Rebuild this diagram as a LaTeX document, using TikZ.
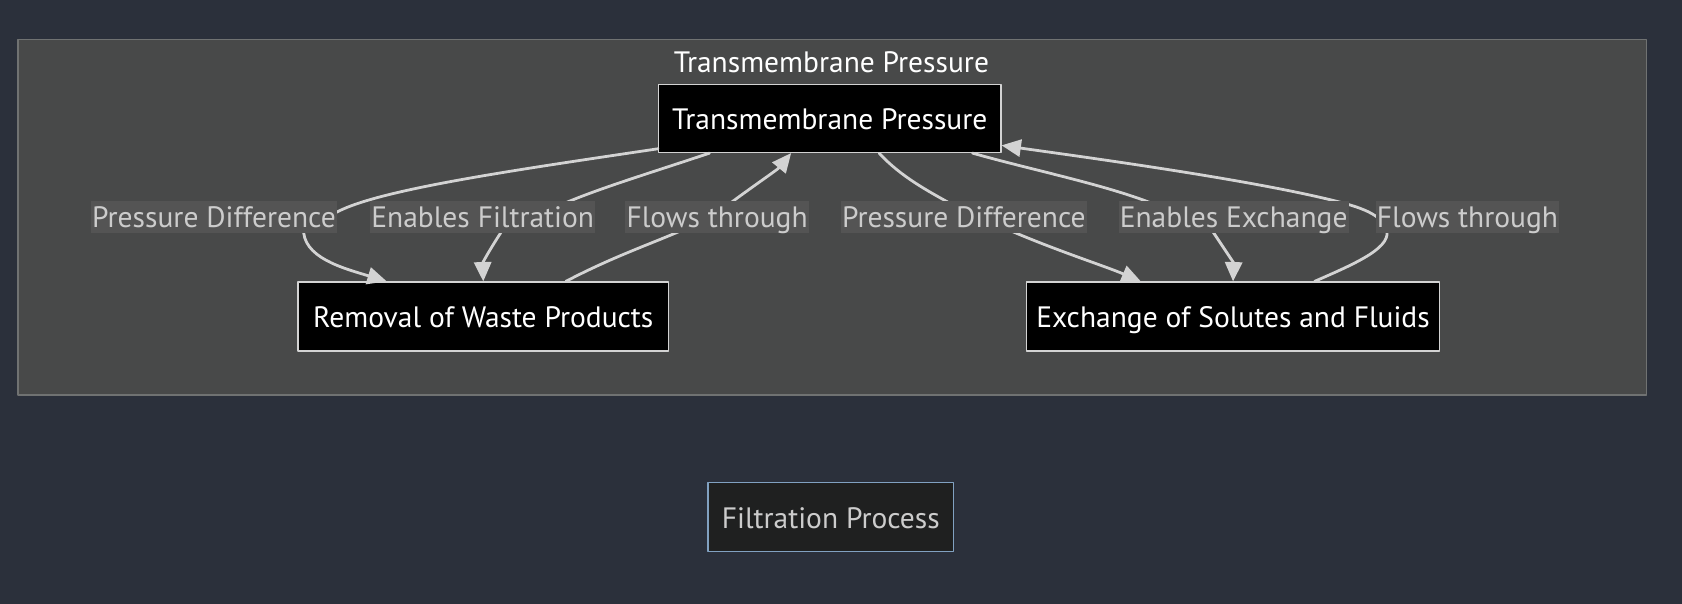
\documentclass[tikz,border=0pt]{standalone}
\usepackage{fontspec}
\setmainfont{PT Sans}
\usepackage{xcolor}
\usetikzlibrary{positioning,calc,arrows.meta}

\definecolor{bgdark}{RGB}{43,48,59}
\definecolor{clfill}{RGB}{72,73,73}
\definecolor{cldraw}{RGB}{112,114,114}
\definecolor{edgecol}{RGB}{211,211,211}
\definecolor{lblfill}{RGB}{84,84,84}
\definecolor{lbltext}{RGB}{204,204,204}
\definecolor{fpfill}{RGB}{31,32,32}
\definecolor{fpdraw}{RGB}{129,161,193}

\begin{document}
\begin{tikzpicture}[x=1pt,y=-1pt, font=\fontsize{27.5}{32}\selectfont, line cap=round, line join=round]
		% ===== nền =====
		\fill[bgdark] (0,0) rectangle (1568,563);
		\useasboundingbox (0,0) rectangle (1568,563);
		
		% ===== style =====
		\tikzset{box/.style={draw=edgecol, fill=black, text=white, line width=1.4pt, inner sep=0pt, text height=24pt, text depth=3pt},
			elabel/.style={fill=lblfill, text=lbltext, inner xsep=1pt, inner ysep=1.5pt, text height=24pt, text depth=3pt},
			edge/.style={draw=edgecol, line width=2.6pt},
			arr/.style={-{Triangle[length=18pt,width=16pt]}}}
		
		% ===== khung nhóm =====
		\draw[fill=clfill, draw=cldraw, line width=1.4pt] (17,37) rectangle (1535,368);
		\node[text=white, text height=24pt, text depth=3pt] (cltitle) at (775,57) {Transmembrane Pressure};
		
		% ===== các nút =====
		\node[box, minimum width=319pt, minimum height=63pt] (tp) at (773.5,110.5) {Transmembrane Pressure};
		\node[box, minimum width=345pt, minimum height=64pt] (rm) at (450.5,295) {Removal of Waste Products};
		\node[box, minimum width=385pt, minimum height=64pt] (ex) at (1149.5,295) {Exchange of Solutes and Fluids};
		\node[box, fill=fpfill, draw=fpdraw, text=lbltext, minimum width=229pt, minimum height=64pt] (fp) at (774.5,482) {Filtration Process};
		
		% ===== các cạnh =====
		% tp -> rm : Pressure Difference
		\draw[edge, arr] ($(tp.south west)+(0,-4)$) .. controls (470,160) and (345,178) .. (310,200)
			-- (283,212) .. controls (281,240) and (320,250) .. ($(rm.north)+(-90,0)$);
		% tp -> rm : Enables Filtration
		\draw[edge, arr] ($(tp.south)+(-112,0)$) .. controls (610,160) and (560,175) .. (525,190)
			-- (470,212) .. controls (455,235) and (450,245) .. (rm.north);
		% rm -> tp : Flows through
		\draw[edge, arr] ($(rm.north)+(77,0)$) .. controls (570,240) and (605,228) .. (635,215)
			-- (680,190) .. controls (700,175) and (725,158) .. ($(tp.south)+(-36,0)$);
		% tp -> ex : Pressure Difference
		\draw[edge, arr] ($(tp.south)+(46,0)$) .. controls (840,165) and (865,178) .. (890,192)
			-- (935,212) .. controls (980,232) and (1030,248) .. ($(ex.north)+(-86,0)$);
		% tp -> ex : Enables Exchange
		\draw[edge, arr] ($(tp.south)+(133,0)$) .. controls (960,158) and (1030,172) .. (1075,190)
			-- (1128,212) .. controls (1140,230) and (1150,245) .. (ex.north);
		% ex -> tp : Flows through
		\draw[edge, arr] ($(ex.north)+(76,0)$) .. controls (1265,245) and (1300,230) .. (1292,212)
			.. controls (1285,198) and (1265,192) .. (1235,185)
			.. controls (1150,165) and (1000,145) .. ($(tp.east)+(0,25)$);
		
		% ===== nhãn cạnh =====
		\foreach \n/\x/\t in {l1/199.5/Pressure Difference, l2/450/Enables Filtration, l3/668.5/Flows through,
			l4/898.5/Pressure Difference, l5/1150/Enables Exchange, l6/1368/Flows through}{
			\node[elabel] (\n) at (\x,202) {\t};
		}
		
	\end{tikzpicture}
\end{document}
